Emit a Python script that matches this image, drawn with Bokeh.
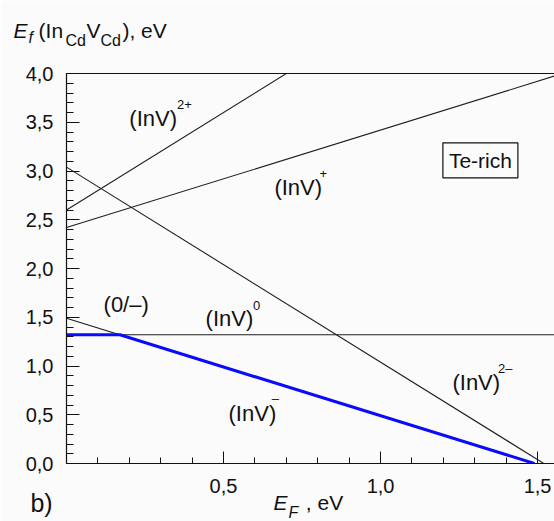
from bokeh.plotting import figure
from bokeh.models import Range1d, LinearAxis, FixedTicker, CustomJSTickFormatter, Label
from bokeh.core.properties import value
from bokeh.embed import file_html
from bokeh.resources import INLINE

# Formation energy of the In_Cd-V_Cd complex vs Fermi level (Te-rich):
# E_f = intercept + charge * E_F for each charge state
charge_names = ["2+", "+", "0", "\u2013", "2\u2013"]
charges = [2, 1, 0, -1, -2]
intercepts = [2.60, 2.42, 1.32, 1.49, 3.04]

fermi_limits = [0.0, 1.56]
x_max = 1.554
y_max = 4.0

y_major = [0.0, 0.5, 1.0, 1.5, 2.0, 2.5, 3.0, 3.5, 4.0]
y_minor = [i / 10 for i in range(0, 41)]
x_major = [0.5, 1.0, 1.5]
x_minor = [i / 10 for i in range(0, 16)]

FONT = "Liberation Sans"
INK = "#111111"
BG = "#fbfbfb"

p = figure(width=554, height=521, output_backend="svg", toolbar_location=None,
           x_range=Range1d(0, x_max), y_range=Range1d(0, y_max),
           min_border_left=66, min_border_right=0, min_border_top=73, min_border_bottom=58,
           x_axis_type=None, y_axis_type=None)
p.background_fill_color = BG
p.border_fill_color = BG
p.outline_line_color = None
p.grid.visible = False

# formation-energy lines, one per charge state
for q, b in zip(charges, intercepts):
    ys = [b + q * x for x in fermi_limits]
    p.line(fermi_limits, ys, line_color="#1e1e1e", line_width=1.1)

# lowest-energy envelope: minimum over the charge states down to E_f = 0
neutral = intercepts[charges.index(0)]
minus = intercepts[charges.index(-1)]
transition = minus - neutral        # (0/-) level
zero_cross = minus                  # (InV)- reaches 0
env_x = [0.0, transition, zero_cross]
env_y = [min(b + q * x for q, b in zip(charges, intercepts)) for x in env_x]
p.line(env_x, env_y, line_color="#0a0aff", line_width=3)

tick_fmt = CustomJSTickFormatter(code="return tick.toFixed(1).replace('.', ',');")

yaxis = LinearAxis(ticker=FixedTicker(ticks=y_major, minor_ticks=y_minor), formatter=tick_fmt)
xaxis = LinearAxis(ticker=FixedTicker(ticks=x_major, minor_ticks=x_minor), formatter=tick_fmt)
for ax in (xaxis, yaxis):
    ax.axis_line_color = INK
    ax.axis_line_width = 1.2
    ax.major_tick_line_color = INK
    ax.minor_tick_line_color = INK
    ax.major_tick_out = 0
    ax.minor_tick_out = 0
    ax.major_label_text_font = FONT
    ax.major_label_text_font_size = "20px"
    ax.major_label_text_color = INK
yaxis.major_tick_in = 13
yaxis.minor_tick_in = 7
yaxis.major_label_standoff = 13
xaxis.major_tick_in = 12
xaxis.minor_tick_in = 6
xaxis.major_label_standoff = 15
p.add_layout(yaxis, "left")
p.add_layout(xaxis, "below")

top = LinearAxis(ticker=FixedTicker(ticks=[]), axis_line_color=INK, axis_line_width=1.2,
                 major_tick_line_color=None, minor_tick_line_color=None,
                 major_label_text_font_size="0px")
p.add_layout(top, "above")


def lab(x, y, text, size="22px", style="normal", align="left", **kw):
    p.add_layout(Label(x=x, y=y, text=text, text_font=FONT, text_font_size=size,
                       text_font_style=style, text_align=align, text_baseline="middle",
                       text_color=INK, **kw))


def outer(x, y, text, size="21px", style="normal"):
    # text in the border area, drawn above the frame clip
    p.text(x=[x], y=[y], text=[text], text_font=value(FONT), text_font_size=size,
           text_font_style=style, text_baseline="middle", text_align="left",
           text_color=INK, level="overlay")


# charge-state labels with superscripts
state_pos = [(0.20, 3.54, 0.352, 3.68),
             (0.662, 2.83, 0.806, 2.97),
             (0.443, 1.49, 0.594, 1.62),
             (0.516, 0.51, 0.654, 0.67),
             (1.229, 0.83, 1.374, 0.97)]
for name, (lx, ly, sx, sy) in zip(charge_names, state_pos):
    lab(lx, ly, "(InV)")
    lab(sx, sy, name, size="13px")

lab(0.118, 1.63, "(0/\u2013)", size="22px")

lab(1.318, 3.11, "Te-rich", size="21px", align="center", border_line_color=INK,
    border_line_width=1.2, background_fill_color=BG, padding=6)

# vertical axis title: E_f (In_Cd V_Cd), eV
outer(-0.169, 4.44, "E", size="21px", style="italic")
outer(-0.121, 4.37, "f", size="16px", style="italic")
outer(-0.089, 4.44, "(In", size="21px")
outer(-0.003, 4.34, "Cd", size="16px")
outer(0.064, 4.44, "V", size="21px")
outer(0.108, 4.34, "Cd", size="16px")
outer(0.178, 4.44, "), eV", size="21px")

# horizontal axis title: E_F , eV
outer(0.659, -0.40, "E", size="21px", style="italic")
outer(0.707, -0.50, "F", size="16px", style="italic")
outer(0.762, -0.40, ", eV", size="21px")

# panel letter
outer(-0.115, -0.40, "b)", size="25px")

open("out.html", "w").write(file_html(p, INLINE))
